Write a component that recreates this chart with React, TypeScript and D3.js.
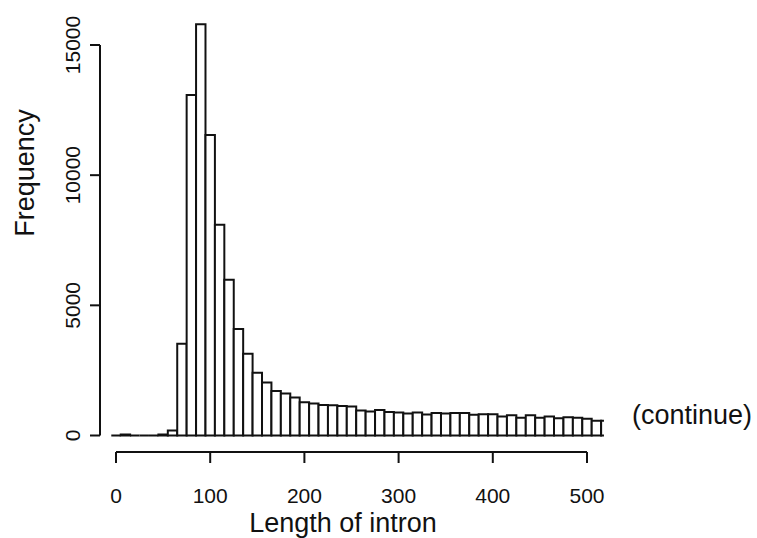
import React, { useEffect, useRef } from "react";
import * as d3 from "d3";

// histogram of intron lengths, bins 10 wide centred on multiples of 10
const binCenters = [
  0, 10, 20, 30, 40, 50, 60, 70, 80, 90, 100, 110, 120, 130, 140, 150, 160, 170, 180, 190,
  200, 210, 220, 230, 240, 250, 260, 270, 280, 290, 300, 310, 320, 330, 340, 350, 360, 370,
  380, 390, 400, 410, 420, 430, 440, 450, 460, 470, 480, 490, 500, 510, 520,
];
const counts = [
  0, 40, 0, 0, 0, 40, 190, 3520, 13080, 15800, 11540, 8100, 5980, 4090, 3140, 2410, 2040,
  1705, 1610, 1460, 1280, 1230, 1170, 1165, 1130, 1115, 960, 925, 975, 900, 885, 845, 885,
  810, 860, 845, 860, 860, 795, 820, 820, 730, 780, 680, 780, 680, 730, 665, 705, 680, 640,
  565, 565,
];
const binWidth = 10;
const xTicks = [0, 100, 200, 300, 400, 500];
const yTicks = [0, 5000, 10000, 15000];
const xTitle = "Length of intron";
const yTitle = "Frequency";
const note = "(continue)";

const W = 757;
const H = 538;
const FONT = "'Liberation Sans', Arial, Helvetica, sans-serif";
const INK = "#111";

export default function App() {
  const svgRef = useRef<SVGSVGElement | null>(null);

  useEffect(() => {
    if (!svgRef.current) return;
    const svg = d3.select(svgRef.current);
    svg.selectAll("*").remove();

    const x = d3.scaleLinear().domain([0, 500]).range([116, 587]);
    const y = d3.scaleLinear().domain([0, 15000]).range([435.5, 45]);
    const axisY = 452; // x axis sits below the bars, like R
    const axisX = 100;

    svg.append("rect").attr("width", W).attr("height", H).attr("fill", "#fff");

    svg
      .append("defs")
      .append("clipPath")
      .attr("id", "plotclip")
      .append("rect")
      .attr("x", x(-20))
      .attr("y", 0)
      .attr("width", x(518) - x(-20))
      .attr("height", H);

    // bars as closed paths so empty bins still show as a line on the base
    svg
      .append("g")
      .attr("clip-path", "url(#plotclip)")
      .selectAll("path")
      .data(binCenters.map((c, i) => ({ c, n: counts[i] })))
      .enter()
      .append("path")
      .attr("d", (d) => {
        const x0 = x(d.c - binWidth / 2);
        const x1 = x(d.c + binWidth / 2);
        return `M${x0},${y(0)}V${y(d.n)}H${x1}V${y(0)}Z`;
      })
      .attr("fill", "#fff")
      .attr("stroke", INK)
      .attr("stroke-width", 2);

    // x axis
    const gx = svg.append("g");
    gx.append("line")
      .attr("x1", x(0))
      .attr("x2", x(500))
      .attr("y1", axisY)
      .attr("y2", axisY)
      .attr("stroke", INK)
      .attr("stroke-width", 2);
    gx.selectAll(".tick")
      .data(xTicks)
      .enter()
      .append("line")
      .attr("x1", (d) => x(d))
      .attr("x2", (d) => x(d))
      .attr("y1", axisY)
      .attr("y2", axisY + 11)
      .attr("stroke", INK)
      .attr("stroke-width", 2);
    gx.selectAll(".lbl")
      .data(xTicks)
      .enter()
      .append("text")
      .attr("x", (d) => x(d))
      .attr("y", 503)
      .attr("text-anchor", "middle")
      .attr("font-family", FONT)
      .attr("font-size", 21)
      .attr("fill", INK)
      .text((d) => String(d));

    // y axis
    const gy = svg.append("g");
    gy.append("line")
      .attr("x1", axisX)
      .attr("x2", axisX)
      .attr("y1", y(0))
      .attr("y2", y(15000))
      .attr("stroke", INK)
      .attr("stroke-width", 2);
    gy.selectAll(".tick")
      .data(yTicks)
      .enter()
      .append("line")
      .attr("x1", axisX - 10)
      .attr("x2", axisX)
      .attr("y1", (d) => y(d))
      .attr("y2", (d) => y(d))
      .attr("stroke", INK)
      .attr("stroke-width", 2);
    gy.selectAll(".lbl")
      .data(yTicks)
      .enter()
      .append("text")
      .attr("transform", (d) => `translate(80,${y(d)}) rotate(-90)`)
      .attr("text-anchor", "middle")
      .attr("font-family", FONT)
      .attr("font-size", 21)
      .attr("fill", INK)
      .text((d) => String(d));

    // titles
    svg
      .append("text")
      .attr("x", 343)
      .attr("y", 532)
      .attr("text-anchor", "middle")
      .attr("font-family", FONT)
      .attr("font-size", 27)
      .attr("fill", INK)
      .text(xTitle);
    svg
      .append("text")
      .attr("transform", `translate(34,173) rotate(-90)`)
      .attr("text-anchor", "middle")
      .attr("font-family", FONT)
      .attr("font-size", 27)
      .attr("fill", INK)
      .text(yTitle);
    svg
      .append("text")
      .attr("x", 632)
      .attr("y", 424)
      .attr("font-family", FONT)
      .attr("font-size", 27)
      .attr("fill", INK)
      .text(note);
  }, []);

  return (
    <svg
      ref={svgRef}
      width={W}
      height={H}
      style={{ position: "absolute", left: 0, top: 0, display: "block" }}
    />
  );
}
